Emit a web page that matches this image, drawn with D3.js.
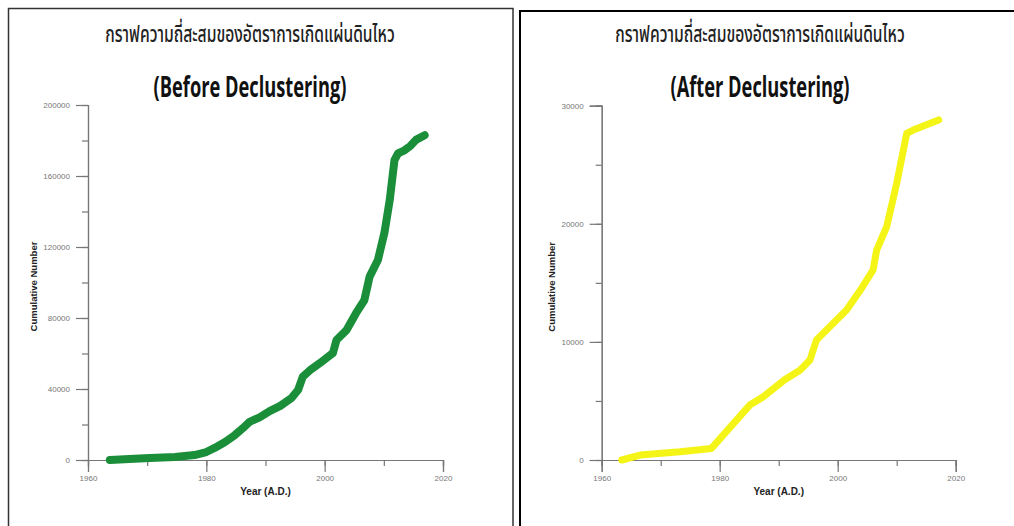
<!DOCTYPE html>
<html>
<head>
<meta charset="utf-8">
<script src="https://cdn.jsdelivr.net/npm/d3@7"></script>
<style>
  html, body { margin: 0; padding: 0; background: #fff; }
  svg { display: block; }
</style>
</head>
<body>
<svg id="chart" width="1014" height="526"></svg>
<script>
// Cumulative earthquake counts per year
const thaiTitle = "กราฟความถี่สะสมของอัตราการเกิดแผ่นดินไหว";

const beforeYears = [1963.7, 1967, 1970.5, 1974.7, 1978, 1980, 1981.4, 1983.1, 1984.8, 1986.2,
  1987.3, 1989, 1990.7, 1992.5, 1994.4, 1995.5, 1996.3, 1997.5, 1999.2, 2000.5,
  2001.4, 2002.0, 2003.7, 2005.3, 2006.7, 2007.6, 2009.0, 2010.1, 2011.0, 2011.8,
  2012.4, 2013.5, 2014.5, 2015.5, 2016.9];
const beforeCounts = [0, 600, 1100, 1700, 2800, 4500, 6800, 10000, 14000, 18000,
  21500, 24000, 27500, 30500, 34900, 39400, 46900, 50500, 54600, 58000,
  60300, 67600, 73200, 82700, 90000, 103300, 112700, 128000, 146500, 169000,
  172800, 174500, 177000, 180500, 183000];

const afterYears = [1963.4, 1966.5, 1973.3, 1978.6, 1985.1, 1987.4, 1991,
  1993.6, 1995.3, 1996.4, 1998.1, 2001.5, 2004, 2006, 2006.6, 2008.3, 2010,
  2011.7, 2012.8, 2017.1];
const afterCounts = [0, 420, 700, 980, 4650, 5360, 6800,
  7600, 8470, 10160, 11000, 12700, 14500, 16090, 17780, 19750, 23430,
  27660, 27940, 28790];

const yearTicks = [1960, 1980, 2000, 2020];
const yearMinorTicks = [1960, 1970, 1980, 1990, 2000, 2010, 2020];
const beforeTicks = [0, 40000, 80000, 120000, 160000, 200000];
const beforeMinorTicks = d3.range(0, 200001, 20000);
const afterTicks = [0, 10000, 20000, 30000];
const afterMinorTicks = d3.range(0, 30001, 5000);

const svg = d3.select("#chart");

// panel frames
svg.append("rect").attr("x", 8.5).attr("y", 8.5).attr("width", 504.5).attr("height", 530)
  .attr("fill", "none").attr("stroke", "#333").attr("stroke-width", 1.5);
svg.append("rect").attr("x", 520).attr("y", 11).attr("width", 500).attr("height", 530)
  .attr("fill", "none").attr("stroke", "#000").attr("stroke-width", 2);

function panel(opts) {
  const g = svg.append("g");
  const x = d3.scaleLinear().domain([1960, 2020]).range(opts.xRange);
  const y = d3.scaleLinear().domain([0, opts.yMax]).range([460, opts.yTop]);

  // titles
  g.append("text")
    .attr("transform", `translate(${opts.titleX},42) scale(0.68,1)`)
    .attr("text-anchor", "middle")
    .attr("font-family", "'Noto Sans', 'Noto Sans Thai', sans-serif")
    .attr("font-size", 23).attr("font-weight", 500).attr("fill", "#222")
    .text(thaiTitle);
  g.append("text")
    .attr("transform", `translate(${opts.titleX},97) scale(0.63,1)`)
    .attr("text-anchor", "middle")
    .attr("font-family", "'Open Sans', sans-serif")
    .attr("font-size", 29).attr("font-weight", 700).attr("fill", "#111")
    .text(opts.subtitle);

  // minor ticks
  const axisColor = "#777";
  const xMinor = d3.axisBottom(x).tickValues(yearMinorTicks).tickSize(6).tickFormat("");
  const yMinor = d3.axisLeft(y).tickValues(opts.yMinor).tickSize(6).tickFormat("");
  g.append("g").attr("transform", "translate(0,460)").call(xMinor);
  g.append("g").attr("transform", `translate(${opts.xRange[0]},0)`).call(yMinor);

  // major ticks and labels
  const xAxis = d3.axisBottom(x).tickValues(yearTicks).tickSize(12).tickPadding(3).tickFormat(d3.format("d"));
  const yAxis = d3.axisLeft(y).tickValues(opts.yTicks).tickSize(12).tickPadding(6).tickFormat(d3.format("d"));
  g.append("g").attr("class", "xa").attr("transform", "translate(0,460)").call(xAxis);
  g.append("g").attr("class", "ya").attr("transform", `translate(${opts.xRange[0]},0)`).call(yAxis);

  g.selectAll(".domain").attr("stroke", axisColor).attr("stroke-width", 1.2);
  g.selectAll(".tick line").attr("stroke", axisColor).attr("stroke-width", 1.2);
  g.selectAll(".tick text").attr("fill", "#777").attr("font-size", 8)
    .attr("font-family", "'Liberation Sans', Arial, sans-serif");

  // axis titles
  g.append("text")
    .attr("transform", `translate(${opts.yTitleX},${y(opts.yMax / 2) + 4}) rotate(-90)`)
    .attr("text-anchor", "middle").attr("dominant-baseline", "middle")
    .attr("font-family", "'Liberation Sans', Arial, sans-serif")
    .attr("font-size", 9.5).attr("font-weight", 700).attr("fill", "#222")
    .text("Cumulative Number");
  g.append("text")
    .attr("x", x(1990)).attr("y", 495)
    .attr("text-anchor", "middle")
    .attr("font-family", "'Liberation Sans', Arial, sans-serif")
    .attr("font-size", 10).attr("font-weight", 700).attr("fill", "#222")
    .text("Year (A.D.)");

  // cumulative curve
  const line = d3.line().x(d => x(d[0])).y(d => y(d[1])).curve(d3.curveLinear);
  g.append("path")
    .datum(d3.zip(opts.years, opts.counts))
    .attr("d", line)
    .attr("fill", "none")
    .attr("stroke", opts.color)
    .attr("stroke-width", opts.width)
    .attr("stroke-linecap", "round")
    .attr("stroke-linejoin", "round");
}

panel({
  xRange: [88, 443], yTop: 105, yMax: 200000,
  yTicks: beforeTicks, yMinor: beforeMinorTicks,
  years: beforeYears, counts: beforeCounts,
  color: "#1b8e3a", width: 8,
  titleX: 250, subtitle: "(Before Declustering)", yTitleX: 34
});

panel({
  xRange: [601.7, 955.7], yTop: 105.7, yMax: 30000,
  yTicks: afterTicks, yMinor: afterMinorTicks,
  years: afterYears, counts: afterCounts,
  color: "#f4f416", width: 7,
  titleX: 760, subtitle: "(After Declustering)", yTitleX: 552
});
</script>
</body>
</html>
